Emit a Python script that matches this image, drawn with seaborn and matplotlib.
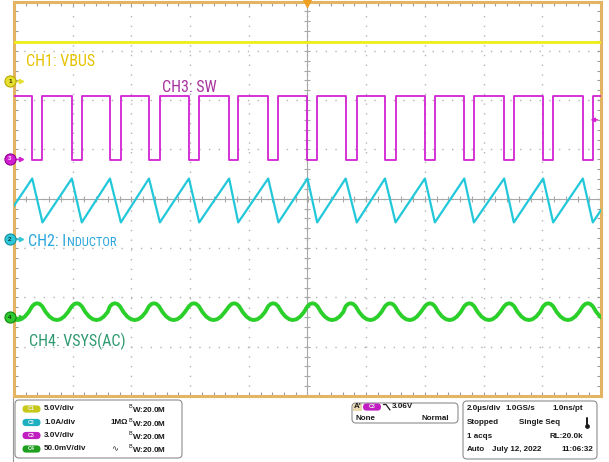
import numpy as np
import pandas as pd
import matplotlib
matplotlib.use("Agg")
import matplotlib.pyplot as plt
from matplotlib import font_manager
from matplotlib.patches import FancyBboxPatch
import seaborn as sns

# ---------------- captured values ----------------
# switch-node edges (µs, trigger at 0 µs, 2 µs/div)
sw_fall_us = [-10.72, -9.38, -8.03, -6.73, -5.40, -4.04, -2.67, -1.34, 0.00,
              1.30, 2.64, 4.00, 5.34, 6.70, 8.03, 9.38, 10.72]
sw_rise_us = [-10.38, -9.03, -7.69, -6.36, -5.03, -3.69, -2.36, -0.99, 0.33,
              1.68, 3.00, 4.34, 5.67, 7.03, 8.37, 9.72, 11.06]
sw_high_v = 3.85
sw_low_v = -0.10

# inductor current at the switching edges (A)
il_peak_a = 1.23
il_valley_a = 0.34

# input bus (V)
vbus_t_us = [-10.0, 10.0]
vbus_v = [4.0, 4.0]

# output ripple over one switching cycle, offsets from the SW falling edge
vsys_cycle_us = [0.0, 0.085, 0.17, 0.255, 0.34, 0.46, 0.59, 0.72, 0.84, 0.96, 1.09, 1.22]
vsys_cycle_mv = [11.0, 13.3, 14.0, 13.3, 11.0, 5.1, 0.5, -2.2, -3.0, -2.2, 0.5, 5.1]

# vertical settings: (units per div, ground marker position in div)
ch_scale = {"CH1": 5.0, "CH2": 1.0, "CH3": 3.0, "CH4": 50.0}
ch_offset = {"CH1": 2.38, "CH2": -0.82, "CH3": 0.81, "CH4": -2.40}
trig_arrow_div = 1.60

# ---------------- colours ----------------
C_YEL, C_CYA, C_MAG, C_GRN = "#EEEE1A", "#22C8DA", "#D222D2", "#2ACF2A"
L_YEL, L_CYA, L_MAG, L_GRN = "#E6C200", "#2AA6DC", "#A8329E", "#2E9A70"
FRAME = "#E3B462"
GRID = "#B4B4B4"


def to_div(ch, vals):
    return ch_offset[ch] + np.asarray(vals, dtype=float) / ch_scale[ch]


# switch node as a stepped trace
events = sorted([(t, "f") for t in sw_fall_us] + [(t, "r") for t in sw_rise_us])
sw_t, sw_v = [], []
for t, kind in events:
    if kind == "f":
        sw_t += [t, t]
        sw_v += [sw_high_v, sw_low_v]
    else:
        sw_t += [t, t]
        sw_v += [sw_low_v, sw_high_v]
sw_df = pd.DataFrame({"t": sw_t, "div": to_div("CH3", sw_v)})

# inductor current: peaks at falling edges, valleys at rising edges
il_pts = sorted([(t, il_peak_a) for t in sw_fall_us] + [(t, il_valley_a) for t in sw_rise_us])
il_df = pd.DataFrame({"t": [p[0] for p in il_pts],
                      "div": to_div("CH2", [p[1] for p in il_pts])})

# output ripple repeated on every switching cycle
vs_t, vs_v = [], []
for tf in sw_fall_us:
    vs_t += [tf + o for o in vsys_cycle_us]
    vs_v += vsys_cycle_mv
vs_df = pd.DataFrame({"t": vs_t, "div": to_div("CH4", vs_v)})

vb_df = pd.DataFrame({"t": vbus_t_us, "div": to_div("CH1", vbus_v)})

# ---------------- figure ----------------
sns.set_style("white")
plt.rcParams["font.family"] = ["Liberation Sans", "DejaVu Sans"]

# pick a narrow face for the channel captions when one is available
installed = {f.name for f in font_manager.fontManager.ttflist}
narrow = [f for f in ["Roboto Condensed", "Liberation Sans Narrow", "Open Sans Condensed"]
          if f in installed]
if narrow:
    cap_family, cap_size, small_size = [narrow[0], "DejaVu Sans"], 11.5, 9.0
else:
    cap_family, cap_size, small_size = ["Liberation Sans", "DejaVu Sans"], 10.2, 8.0

W, H = 609, 462
fig = plt.figure(figsize=(W / 100, H / 100), dpi=100)
fig.patch.set_facecolor("white")
ax = fig.add_axes([14 / W, (H - 396) / H, 587 / W, 394.5 / H])
ax.set_xlim(-10, 10)
ax.set_ylim(-4, 4)

# graticule
ax.set_xticks(np.arange(-10, 10.01, 2))
ax.set_xticks(np.arange(-10, 10.01, 0.4), minor=True)
ax.set_yticks(np.arange(-4, 4.01, 1))
ax.set_yticks(np.arange(-4, 4.01, 0.2), minor=True)
ax.tick_params(which="both", direction="in", top=True, right=True, bottom=True, left=True,
               labelbottom=False, labelleft=False, length=3, width=0.8, color="#9A9A9A")
ax.grid(which="major", color=GRID, linestyle=(0, (1, 6)), linewidth=1.0)
for s in ax.spines.values():
    s.set_color(FRAME)
    s.set_linewidth(2.2)
ax.axhline(0, color="#A8A8A8", lw=0.8, zorder=1)
ax.axvline(0, color="#A8A8A8", lw=0.8, zorder=1)
xm = np.arange(-10, 10.01, 0.4)
ym = np.arange(-4, 4.01, 0.2)
ax.plot(xm, np.zeros_like(xm), ls="none", marker="|", ms=5, mew=0.8, color="#A8A8A8", zorder=1)
ax.plot(np.zeros_like(ym), ym, ls="none", marker="_", ms=5, mew=0.8, color="#A8A8A8", zorder=1)

# traces
sns.lineplot(data=vb_df, x="t", y="div", ax=ax, sort=False, estimator=None,
             color=C_YEL, linewidth=2.0, zorder=3)
sns.lineplot(data=sw_df, x="t", y="div", ax=ax, sort=False, estimator=None,
             color=C_MAG, linewidth=1.3, zorder=3)
sns.lineplot(data=il_df, x="t", y="div", ax=ax, sort=False, estimator=None,
             color=C_CYA, linewidth=1.6, zorder=3)
sns.lineplot(data=vs_df, x="t", y="div", ax=ax, sort=False, estimator=None,
             color=C_GRN, linewidth=2.8, zorder=3)
ax.set_xlabel("")
ax.set_ylabel("")

# trigger position and level indicators
ax.plot([0], [1.0], transform=ax.get_xaxis_transform(), marker="v", ms=7,
        color="#F0A020", clip_on=False, zorder=5)
ax.annotate("", xy=(9.55, trig_arrow_div), xytext=(9.98, trig_arrow_div),
            arrowprops=dict(arrowstyle="-|>", color=C_MAG, lw=1.0, mutation_scale=6), zorder=5)

# channel ground markers
yt = ax.get_yaxis_transform()
for ch, fc, ec, tc in [("CH1", "#E8E030", "#B8A800", "#333300"),
                       ("CH2", "#30C8D8", "#1890A0", "#0A3A40"),
                       ("CH3", "#D020D0", "#900090", "#FFE0FF"),
                       ("CH4", "#30C830", "#108A10", "#0A300A")]:
    y = ch_offset[ch]
    ax.plot([0.001, 0.012], [y, y], transform=yt, color=fc, lw=1.0, clip_on=False, zorder=6)
    ax.plot([0.012], [y], transform=yt, marker=">", ms=3, color=fc, clip_on=False, zorder=6)
    ax.plot([-0.0068], [y], transform=yt, marker="o", ms=8.0, mfc=fc, mec=ec, mew=0.8,
            clip_on=False, zorder=7)
    ax.text(-0.0068, y, ch[-1], transform=yt, ha="center", va="center",
            fontsize=4.5, fontweight="bold", color=tc, zorder=8, clip_on=False)

# channel labels
lab = dict(family=cap_family, fontsize=cap_size, va="baseline", ha="left", zorder=6)
ax.text(-9.59, 2.70, "CH1: VBUS", color=L_YEL, **lab)
ax.text(-4.96, 2.16, "CH3: SW", color=L_MAG, **lab)
t_ind = ax.text(-9.52, -0.96, "CH2: I", color=L_CYA, **lab)
ax.text(-9.49, -2.99, "CH4: VSYS(AC)", color=L_GRN, **lab)
fig.canvas.draw()
bb = t_ind.get_window_extent()
x_next = ax.transData.inverted().transform((bb.x1 + 0.3, 0))[0]
lab_small = dict(lab)
lab_small["fontsize"] = small_size
ax.text(x_next, -0.96, "NDUCTOR", color=L_CYA, **lab_small)

# ---------------- status panel ----------------
pax = fig.add_axes([0, 0, 1, 1], facecolor="none")
pax.set_xlim(0, W)
pax.set_ylim(H, 0)
pax.axis("off")
pax.plot([12.5, 12.5], [398, H], color="#9A9A9A", lw=0.8)

def box(x, y, w, h):
    pax.add_patch(FancyBboxPatch((x, y), w, h, boxstyle="round,pad=0,rounding_size=4",
                                 fc="white", ec="#8C8C8C", lw=0.8))

def pill(x, y, text, fc):
    pax.add_patch(FancyBboxPatch((x, y - 3.6), 18, 7.2, boxstyle="round,pad=0,rounding_size=3.6",
                                 fc=fc, ec="none"))
    pax.text(x + 9, y, text, ha="center", va="center", fontsize=3.8, color="#F4F4F4",
             fontweight="bold")

pt = dict(fontsize=5.8, fontweight="bold", color="#1A1A1A", va="center")

box(15, 400, 167, 58)
rows = [409, 422.5, 435.5, 449]
for (name, fc, scale), y in zip([("C1", "#C8C81A", "5.0V/div"), ("C2", "#1EAFC0", "1.0A/div"),
                                 ("C3", "#C01EC0", "3.0V/div"), ("C4", "#1EA01E", "50.0mV/div")], rows):
    pill(22.5, y, name, fc)
    pax.text(44, y, scale, ha="left", **pt)
    pax.text(128, y, r"$^{\mathrm{B}}$W:20.0M", ha="left", **pt)
pax.text(110, rows[1], "1MΩ", ha="left", **pt)
pax.text(111, rows[3], "∿", ha="left", family=["DejaVu Sans"], fontsize=6, color="#333333",
         va="center")

box(352, 403, 106, 20)
pax.add_patch(plt.Rectangle((352.5, 403.5), 9, 7, fc="#EAD9B0", ec="none"))
pax.text(353.5, 407, "A'", ha="left", **pt)
pill(363, 407, "C3", "#C01EC0")
pax.plot([383.5, 386, 390], [404.5, 404.5, 410], color="#1A1A1A", lw=0.9)
pax.text(391.5, 407, "3.06V", ha="left", **pt)
pax.text(356, 418.5, "None", ha="left", **pt)
pax.text(449, 418.5, "Normal", ha="right", **pt)

box(463, 401, 134, 58)
r2 = [408, 422, 436, 449.5]
pax.text(467, r2[0], "2.0µs/div", ha="left", **pt)
pax.text(505, r2[0], "1.0GS/s", ha="left", **pt)
pax.text(583, r2[0], "1.0ns/pt", ha="right", **pt)
pax.text(467, r2[1], "Stopped", ha="left", **pt)
pax.text(519, r2[1], "Single Seq", ha="left", **pt)
pax.plot([587, 587], [417.5, 425], color="#1A1A1A", lw=1.4)
pax.plot([587], [426], marker="o", ms=2.4, color="#1A1A1A")
pax.text(467, r2[2], "1 acqs", ha="left", **pt)
pax.text(583, r2[2], "RL:20.0k", ha="right", **pt)
pax.text(467, r2[3], "Auto", ha="left", **pt)
pax.text(492, r2[3], "July 12, 2022", ha="left", **pt)
pax.text(593, r2[3], "11:06:32", ha="right", **pt)

fig.savefig("out.png", dpi=100, facecolor="white")
